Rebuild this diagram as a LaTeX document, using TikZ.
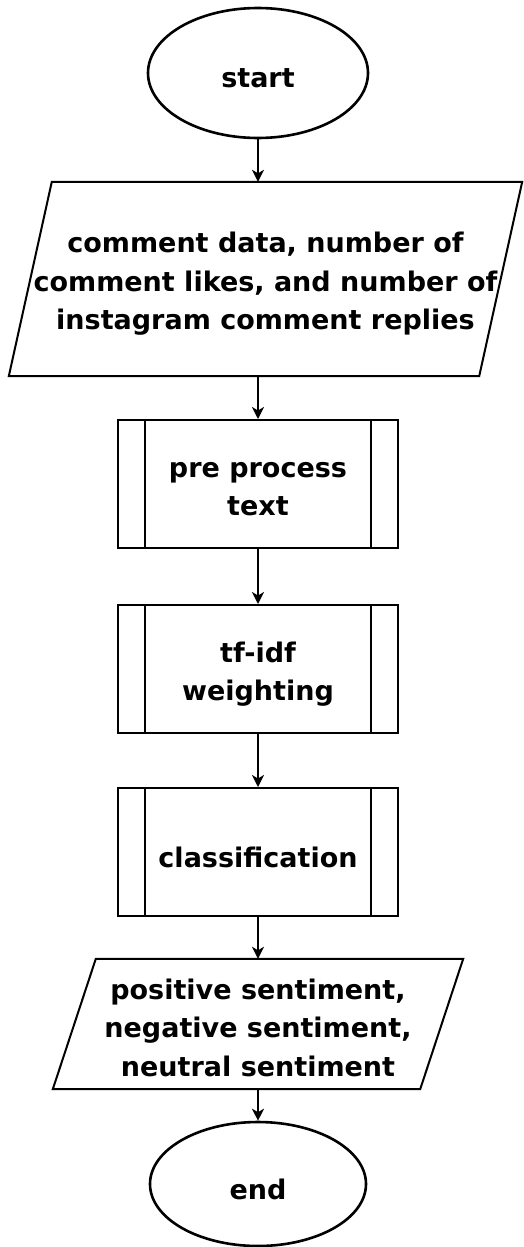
\documentclass[tikz,border=0pt]{standalone}
\usepackage{fontspec}
\setmainfont{DejaVu Sans}
\usetikzlibrary{shapes.geometric,arrows.meta,calc}
\begin{document}
\begin{tikzpicture}[x=1pt,y=-1pt,
  every node/.style={font=\bfseries\fontsize{27}{38.5}\selectfont, align=center, inner sep=0pt},
  term/.style={ellipse, draw, line width=2.6pt, minimum width=220pt, minimum height=130pt},
  proc/.style={rectangle, draw, line width=2pt, minimum width=280pt, minimum height=128pt},
  io/.style={rectangle},
  txt/.style={yshift=-5pt},
  shapeline/.style={line width=2pt, line join=miter},
  conn/.style={-{Stealth[length=12pt,width=12pt,inset=3.5pt]}, line width=2pt}]
\useasboundingbox[fill=white] (0,0) rectangle (524,1247);

\node[term] (start) at (258,73) {};
\node[txt] (starttxt) at (start) {start};

\node[io, minimum width=513pt, minimum height=194pt] (inp) at (265.5,279) {};
\node[txt] (inptxt) at (inp) {comment data, number of\\comment likes, and number of\\instagram comment replies};
\draw[shapeline] ($(inp.north west)+(43,0)$) -- (inp.north east)
  -- ($(inp.south east)+(-43,0)$) -- (inp.south west) -- cycle;

\node[proc] (pre) at (258,484) {};
\node[txt] (pretxt) at (pre) {pre process\\text};
\draw[shapeline] ($(pre.north west)+(28,0)$) -- ($(pre.south west)+(28,0)$);
\draw[shapeline] ($(pre.north east)+(-28,0)$) -- ($(pre.south east)+(-28,0)$);

\node[proc] (tfidf) at (258,669) {};
\node[txt] (tfidftxt) at (tfidf) {tf-idf\\weighting};
\draw[shapeline] ($(tfidf.north west)+(28,0)$) -- ($(tfidf.south west)+(28,0)$);
\draw[shapeline] ($(tfidf.north east)+(-28,0)$) -- ($(tfidf.south east)+(-28,0)$);

\node[proc] (cls) at (258,852) {};
\node[txt] (clstxt) at (cls) {classification};
\draw[shapeline] ($(cls.north west)+(28,0)$) -- ($(cls.south west)+(28,0)$);
\draw[shapeline] ($(cls.north east)+(-28,0)$) -- ($(cls.south east)+(-28,0)$);

\node[io, minimum width=410pt, minimum height=130pt] (out) at (258,1024) {};
\node[txt, yshift=1.5pt] (outtxt) at (out) {positive sentiment,\\negative sentiment,\\neutral sentiment};
\draw[shapeline] ($(out.north west)+(43,0)$) -- (out.north east)
  -- ($(out.south east)+(-43,0)$) -- (out.south west) -- cycle;

\node[term, minimum width=216pt, minimum height=124pt] (end) at (258,1184) {};
\node[txt] (endtxt) at (end) {end};

\draw[conn] (start.south) -- (start.south |- inp.north);
\draw[conn] (pre.north |- inp.south) -- (pre.north);
\draw[conn] (pre) -- (tfidf);
\draw[conn] (tfidf) -- (cls);
\draw[conn] (cls) -- (out);
\draw[conn] (out) -- (end);
\end{tikzpicture}
\end{document}
